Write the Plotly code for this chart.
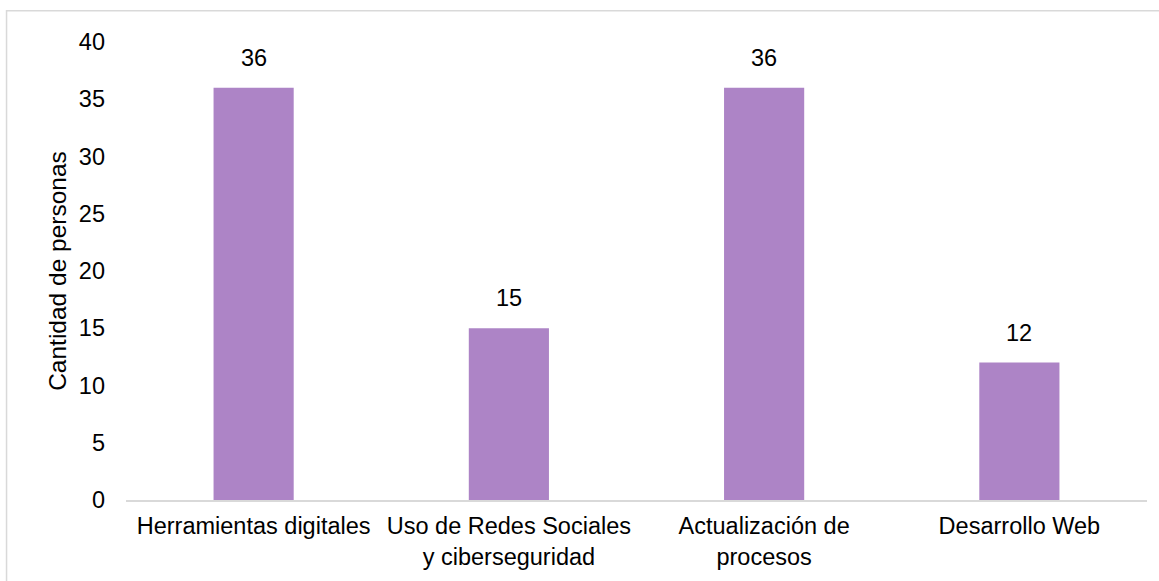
import plotly.graph_objects as go

# Training topics and number of people interested in each
categories = [
    "Herramientas digitales",
    "Uso de Redes Sociales<br>y ciberseguridad",
    "Actualización de<br>procesos",
    "Desarrollo Web",
]
people = [36, 15, 36, 12]
y_ticks = [0, 5, 10, 15, 20, 25, 30, 35, 40]

FONT = "Liberation Sans, Arial, sans-serif"
FONT_SIZE = 23.5
BAR_COLOR = "#AD84C6"
LINE_GRAY = "#D9D9D9"

fig = go.Figure(
    go.Bar(
        x=categories,
        y=people,
        marker=dict(color=BAR_COLOR, line=dict(width=0)),
        hoverinfo="x+y",
    )
)

# Value labels sitting a little above each bar
for cat, val in zip(categories, people):
    fig.add_annotation(
        x=cat,
        y=val,
        text=str(val),
        showarrow=False,
        yanchor="bottom",
        yshift=15,
        font=dict(family=FONT, size=FONT_SIZE, color="#000000"),
    )

fig.update_layout(
    width=1159,
    height=581,
    margin=dict(l=126, r=12, t=42, b=81),
    paper_bgcolor="white",
    plot_bgcolor="white",
    bargap=0.686,
    showlegend=False,
    font=dict(family=FONT, size=FONT_SIZE, color="#000000"),
    shapes=[
        dict(
            type="rect",
            xref="paper",
            yref="paper",
            x0=-0.117,
            x1=1.02,
            y0=-0.2,
            y1=1.068,
            line=dict(color=LINE_GRAY, width=1.5),
            fillcolor="rgba(0,0,0,0)",
            layer="below",
        )
    ],
)

fig.update_xaxes(
    showline=True,
    linecolor=LINE_GRAY,
    linewidth=1.5,
    showgrid=False,
    ticks="",
    tickfont=dict(family=FONT, size=FONT_SIZE, color="#000000"),
    ticklabelstandoff=4,
)

fig.update_yaxes(
    range=[0, 40],
    tickvals=y_ticks,
    ticktext=[str(t) for t in y_ticks],
    showline=False,
    showgrid=False,
    zeroline=False,
    ticks="",
    tickfont=dict(family=FONT, size=FONT_SIZE, color="#000000"),
    ticklabelstandoff=20,
    title=dict(
        text="Cantidad de personas",
        font=dict(family=FONT, size=24.5, color="#000000"),
        standoff=5,
    ),
)

fig.write_html("out.html")
